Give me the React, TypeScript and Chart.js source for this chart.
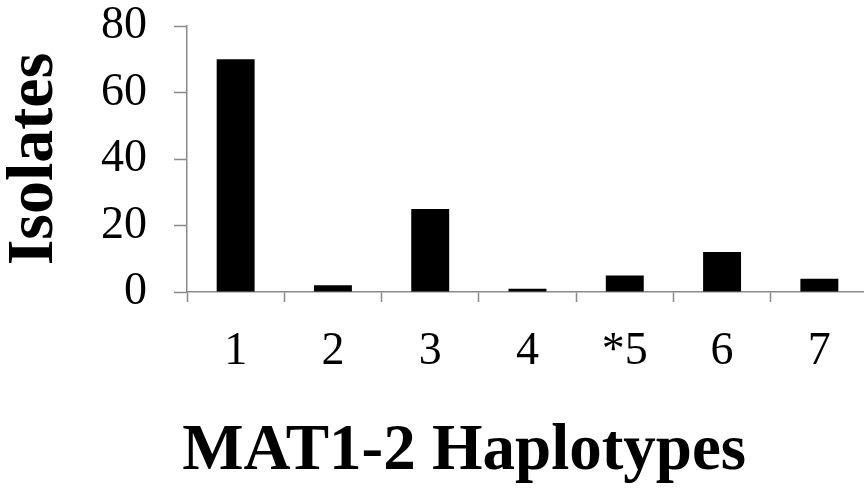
import React, { useEffect, useRef } from "react";
import { Chart, registerables } from "chart.js";

Chart.register(...registerables);

const haplotypes = ["1", "2", "3", "4", "*5", "6", "7"];
const isolates = [70, 2, 25, 1, 5, 12, 4];
const yTicks = [0, 20, 40, 60, 80];
const xTitle = "MAT1-2 Haplotypes";

const SERIF = "'Liberation Serif', 'Times New Roman', serif";
const AXIS = "#8a8a8a";

// Draws the category-axis title below the tick labels, slightly left of the plot centre.
const xTitlePlugin = {
  id: "xTitle",
  afterDraw(chart: any) {
    const { ctx, chartArea } = chart;
    ctx.save();
    ctx.font = `bold 65px ${SERIF}`;
    ctx.fillStyle = "#000";
    ctx.textAlign = "center";
    ctx.textBaseline = "middle";
    const cx = chartArea.left + (chartArea.right - chartArea.left) * 0.407;
    ctx.fillText(xTitle, cx, chart.height - 37);
    ctx.restore();
  },
};

export default function App() {
  const ref = useRef<HTMLCanvasElement | null>(null);

  useEffect(() => {
    if (!ref.current) return;
    const chart = new Chart(ref.current, {
      type: "bar",
      data: {
        labels: haplotypes,
        datasets: [
          {
            data: isolates,
            backgroundColor: "#000000",
            borderWidth: 0,
            barPercentage: 0.39,
            categoryPercentage: 1,
          },
        ],
      },
      plugins: [xTitlePlugin],
      options: {
        animation: false,
        responsive: false,
        layout: { padding: { top: 26, right: 12, bottom: 0, left: 0 } },
        plugins: { legend: { display: false }, tooltip: { enabled: false } },
        scales: {
          x: {
            offset: true,
            border: { display: true, color: AXIS, width: 1.5 },
            grid: {
              offset: true,
              drawOnChartArea: false,
              drawTicks: true,
              tickLength: 10,
              tickColor: AXIS,
              tickWidth: 1.5,
            },
            ticks: {
              color: "#000",
              padding: 22,
              font: { family: SERIF, size: 46, lineHeight: 1.2 },
              maxRotation: 0,
            },
            afterFit: (scale: any) => {
              scale.height = 197;
            },
          },
          y: {
            min: 0,
            max: 80,
            afterBuildTicks: (scale: any) => {
              scale.ticks = yTicks.map((v) => ({ value: v }));
            },
            border: { display: true, color: AXIS, width: 1.5 },
            grid: {
              drawOnChartArea: false,
              drawTicks: true,
              tickLength: 13,
              tickColor: AXIS,
              tickWidth: 1.5,
            },
            ticks: {
              color: "#000",
              padding: 27,
              font: { family: SERIF, size: 46, lineHeight: 1.0 },
            },
            title: {
              display: true,
              text: "Isolates",
              color: "#000",
              padding: { top: 0, bottom: 0 },
              font: { family: SERIF, size: 66, weight: "bold", lineHeight: 1.05 },
            },
            afterFit: (scale: any) => {
              scale.width = 187;
              scale.paddingTop = 0;
              scale.paddingBottom = 0;
            },
          },
        },
      },
    });
    return () => chart.destroy();
  }, []);

  return (
    <div style={{ position: "fixed", left: 0, top: 0, width: 880, height: 489, background: "#fff" }}>
      <canvas ref={ref} width={880} height={489} style={{ display: "block" }} />
    </div>
  );
}
